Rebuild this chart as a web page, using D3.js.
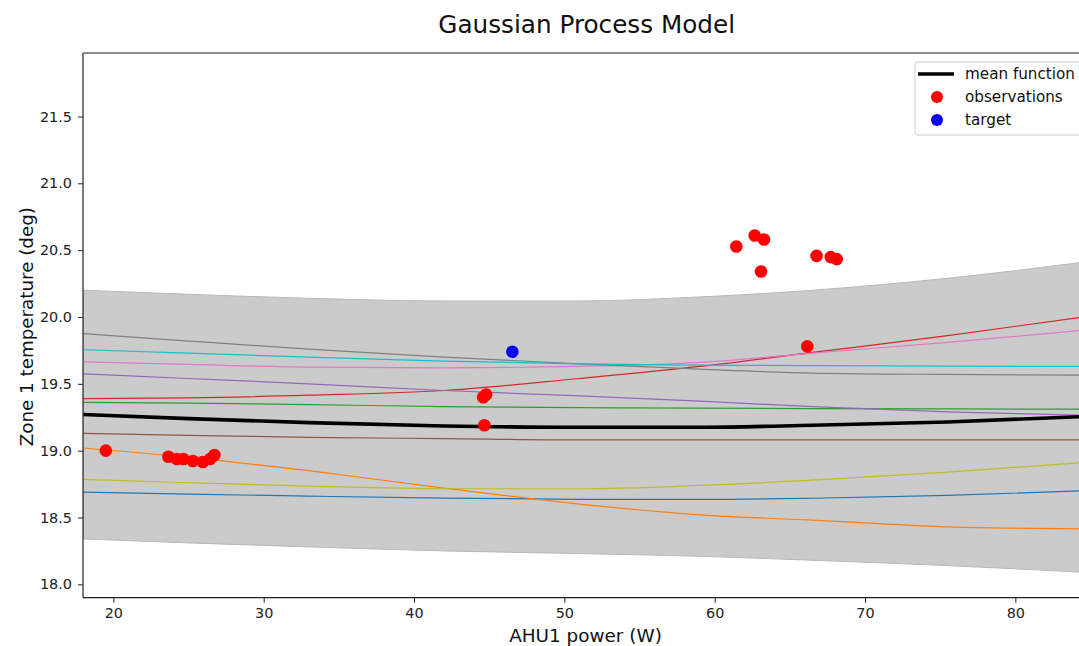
<!DOCTYPE html>
<html>
<head>
<meta charset="utf-8">
<script src="https://cdn.jsdelivr.net/npm/d3@7"></script>
<style>
  html, body { margin: 0; padding: 0; background: #fff; overflow: hidden; }
  text { font-family: "DejaVu Sans", sans-serif; }
</style>
</head>
<body>
<svg id="chart" width="1079" height="646"></svg>
<script>
// Evaluation grid for the GP posterior (AHU1 power, W)
const gridX = [18, 25, 33, 42, 51, 59, 66.5, 75.5, 84.5];

// Posterior mean and confidence band
const meanY  = [19.27, 19.24, 19.21, 19.185, 19.175, 19.175, 19.19, 19.215, 19.255];
const upperY = [20.20, 20.17, 20.14, 20.12, 20.12, 20.15, 20.20, 20.29, 20.41];
const lowerY = [18.34, 18.31, 18.28, 18.25, 18.23, 18.21, 18.18, 18.14, 18.09];

// Posterior sample functions (matplotlib default colour cycle order)
const sampleColors = ["#1f77b4", "#ff7f0e", "#2ca02c", "#d62728", "#9467bd",
                      "#8c564b", "#e377c2", "#7f7f7f", "#bcbd22", "#17becf"];
const sampleBlue   = [18.69, 18.675, 18.66, 18.645, 18.636, 18.635, 18.644, 18.665, 18.70];
const sampleOrange = [19.02, 18.95, 18.85, 18.72, 18.60, 18.52, 18.48, 18.43, 18.415];
const sampleGreen  = [19.362, 19.355, 19.345, 19.33, 19.322, 19.318, 19.315, 19.312, 19.31];
const sampleRed    = [19.39, 19.395, 19.415, 19.45, 19.54, 19.63, 19.735, 19.86, 20.00];
const samplePurple = [19.575, 19.54, 19.50, 19.45, 19.41, 19.37, 19.33, 19.29, 19.265];
const sampleBrown  = [19.13, 19.115, 19.10, 19.09, 19.08, 19.08, 19.08, 19.08, 19.08];
const samplePink   = [19.665, 19.645, 19.625, 19.62, 19.63, 19.66, 19.73, 19.81, 19.90];
const sampleGray   = [19.875, 19.82, 19.76, 19.70, 19.65, 19.61, 19.58, 19.57, 19.565];
const sampleOlive  = [18.785, 18.76, 18.735, 18.715, 18.715, 18.74, 18.78, 18.84, 18.91];
const sampleCyan   = [19.755, 19.73, 19.70, 19.67, 19.65, 19.64, 19.636, 19.632, 19.63];
const samples = [sampleBlue, sampleOrange, sampleGreen, sampleRed, samplePurple,
                 sampleBrown, samplePink, sampleGray, sampleOlive, sampleCyan];

// Observed points
const obsX = [19.5, 23.66, 24.22, 24.66, 25.29, 25.95, 26.44, 26.72,
              44.6, 44.8, 44.68, 61.44, 62.66, 63.28, 63.08, 66.78, 67.72, 68.12, 66.16];
const obsY = [19.0, 18.955, 18.938, 18.938, 18.923, 18.915, 18.938, 18.967,
              19.40, 19.42, 19.19, 20.527, 20.61, 20.58, 20.34, 20.457, 20.448, 20.433, 19.78];

// Target point
const targetX = [46.54];
const targetY = [19.74];

// Axis ticks and labels
const xTicks = [20, 30, 40, 50, 60, 70, 80];
const yTicks = [18.0, 18.5, 19.0, 19.5, 20.0, 20.5, 21.0, 21.5];
const legendLabels = ["mean function", "observations", "target"];

const svg = d3.select("#chart");
const plotLeft = 83, plotTop = 53, plotBottom = 597.7, plotRight = 1083;

const x = d3.scaleLinear().domain([17.98, 84.5]).range([plotLeft, plotRight]);
const y = d3.scaleLinear().domain([17.9, 21.975]).range([plotBottom, plotTop]);

svg.append("defs").append("clipPath").attr("id", "plotClip")
  .append("rect").attr("x", plotLeft).attr("y", plotTop)
  .attr("width", plotRight - plotLeft).attr("height", plotBottom - plotTop);

const plot = svg.append("g").attr("clip-path", "url(#plotClip)");

// Confidence band
const band = d3.area()
  .x((d, i) => x(gridX[i]))
  .y0((d, i) => y(lowerY[i]))
  .y1((d, i) => y(upperY[i]))
  .curve(d3.curveMonotoneX);
plot.append("path").datum(gridX).attr("d", band)
  .attr("fill", "#cbcbcb").attr("stroke", "#b8b8b8").attr("stroke-width", 1);

// Sample paths
const lineOf = vals => d3.line()
  .x((d, i) => x(gridX[i]))
  .y((d, i) => y(vals[i]))
  .curve(d3.curveMonotoneX)(gridX);
samples.forEach((s, k) => {
  plot.append("path").attr("d", lineOf(s))
    .attr("fill", "none").attr("stroke", sampleColors[k]).attr("stroke-width", 1.2);
});

// Mean function
plot.append("path").attr("d", lineOf(meanY))
  .attr("fill", "none").attr("stroke", "#000").attr("stroke-width", 3.6);

// Observations
plot.selectAll("circle.obs").data(obsX).enter().append("circle")
  .attr("class", "obs")
  .attr("cx", d => x(d)).attr("cy", (d, i) => y(obsY[i]))
  .attr("r", 6.3).attr("fill", "#ff0000");

// Target
plot.selectAll("circle.target").data(targetX).enter().append("circle")
  .attr("class", "target")
  .attr("cx", d => x(d)).attr("cy", (d, i) => y(targetY[i]))
  .attr("r", 6.3).attr("fill", "#0000ff");

// Axes
const xAxis = svg.append("g").attr("transform", `translate(0,${plotBottom})`)
  .call(d3.axisBottom(x).tickValues(xTicks).tickFormat(d3.format("d")).tickSizeOuter(0).tickSize(5).tickPadding(5));
const yAxis = svg.append("g").attr("transform", `translate(${plotLeft},0)`)
  .call(d3.axisLeft(y).tickValues(yTicks).tickFormat(d3.format(".1f")).tickSizeOuter(0).tickSize(5).tickPadding(6));
[xAxis, yAxis].forEach(a => {
  a.select(".domain").remove();
  a.selectAll("line").attr("stroke", "#222").attr("stroke-width", 1);
  a.selectAll("text").attr("fill", "#222").style("font-size", "14.4px")
    .style("font-family", "DejaVu Sans, sans-serif");
});

// Spines
svg.append("line").attr("x1", plotLeft).attr("x2", plotRight).attr("y1", plotBottom).attr("y2", plotBottom)
  .attr("stroke", "#222").attr("stroke-width", 1.2);
svg.append("line").attr("x1", plotLeft).attr("x2", plotRight).attr("y1", plotTop).attr("y2", plotTop)
  .attr("stroke", "#222").attr("stroke-width", 1.2);
svg.append("line").attr("x1", plotLeft).attr("x2", plotLeft).attr("y1", plotTop).attr("y2", plotBottom)
  .attr("stroke", "#222").attr("stroke-width", 1.2);

// Title and axis labels
svg.append("text").attr("x", 586.7).attr("y", 33).attr("text-anchor", "middle")
  .style("font-size", "24.7px").attr("fill", "#111").text("Gaussian Process Model");
svg.append("text").attr("x", 585.5).attr("y", 641.5).attr("text-anchor", "middle")
  .style("font-size", "18.4px").attr("fill", "#111").text("AHU1 power (W)");
svg.append("text").attr("transform", "translate(33,326.7) rotate(-90)").attr("text-anchor", "middle")
  .style("font-size", "18.3px").attr("fill", "#111").text("Zone 1 temperature (deg)");

// Legend
const lg = svg.append("g");
lg.append("rect").attr("x", 915).attr("y", 62).attr("width", 180).attr("height", 73)
  .attr("rx", 3).attr("fill", "#fff").attr("fill-opacity", 0.8)
  .attr("stroke", "#cccccc").attr("stroke-width", 1);
const rowY = [74, 97, 120];
lg.append("line").attr("x1", 918).attr("x2", 954).attr("y1", rowY[0]).attr("y2", rowY[0])
  .attr("stroke", "#000").attr("stroke-width", 3.6);
lg.append("circle").attr("cx", 937).attr("cy", rowY[1]).attr("r", 6).attr("fill", "#ff0000");
lg.append("circle").attr("cx", 937).attr("cy", rowY[2]).attr("r", 6).attr("fill", "#0000ff");
legendLabels.forEach((t, i) => {
  lg.append("text").attr("x", 965).attr("y", rowY[i]).attr("dy", "0.35em")
    .style("font-size", "15.2px").attr("fill", "#111").text(t);
});
</script>
</body>
</html>
